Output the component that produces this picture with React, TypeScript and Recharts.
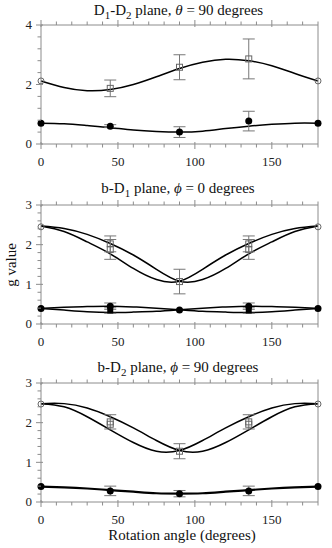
import { ComposedChart, Line, Scatter, XAxis, YAxis, ErrorBar } from 'recharts';

const CURVE_ANGLES = [0, 15, 30, 45, 60, 75, 90, 105, 120, 135, 150, 165, 180];
const d12Upper = [2.12, 1.9, 1.79, 1.83, 2.0, 2.26, 2.54, 2.75, 2.85, 2.8, 2.63, 2.37, 2.12];
const d12Lower = [0.7, 0.68, 0.62, 0.55, 0.47, 0.42, 0.4, 0.43, 0.52, 0.6, 0.66, 0.7, 0.7];
const bd1A = [2.47, 2.41, 2.26, 2.03, 1.74, 1.38, 1.08, 1.12, 1.4, 1.77, 2.07, 2.33, 2.47];
const bd1B = [2.47, 2.33, 2.07, 1.77, 1.4, 1.12, 1.08, 1.38, 1.74, 2.03, 2.26, 2.41, 2.47];
const bd1C = [0.39, 0.42, 0.44, 0.45, 0.43, 0.4, 0.36, 0.32, 0.3, 0.29, 0.31, 0.35, 0.39];
const bd1D = [0.39, 0.35, 0.31, 0.29, 0.3, 0.32, 0.36, 0.4, 0.43, 0.45, 0.44, 0.42, 0.39];
const bd2E = [2.48, 2.48, 2.37, 2.15, 1.87, 1.55, 1.3, 1.28, 1.5, 1.82, 2.15, 2.4, 2.48];
const bd2F = [2.48, 2.4, 2.15, 1.82, 1.5, 1.28, 1.3, 1.55, 1.87, 2.15, 2.37, 2.48, 2.48];
const bd2G = [0.39, 0.37, 0.34, 0.3, 0.26, 0.22, 0.21, 0.22, 0.26, 0.3, 0.34, 0.37, 0.39];

// measured points
const POINT_ANGLES = [0, 45, 90, 135, 180];
const d12UpperPts = [2.12, 1.87, 2.58, 2.86, 2.12];
const d12UpperErr = [null, 0.28, 0.42, 0.67, null];
const d12LowerPts = [0.7, 0.6, 0.4, 0.77, 0.7];
const d12LowerErr = [null, 0.05, 0.18, 0.33, null];

const bd1UpperPts = [2.45, 2.02, 1.07, 2.02, 2.45];
const bd1UpperErr = [null, 0.2, 0.31, 0.2, null];
const bd1LowerPts = [0.39, 0.45, 0.35, 0.45, 0.39];
const bd1LowerErr = [null, 0.08, null, 0.08, null];
const SPLIT_ANGLES = [45, 135];
const bd1UpperPts2 = [1.88, 1.88];
const bd1UpperErr2 = [0.25, 0.25];
const bd1LowerPts2 = [0.34, 0.34];
const bd1LowerErr2 = [0.07, 0.07];

const bd2UpperPts = [2.47, 2.02, 1.28, 2.02, 2.47];
const bd2UpperErr = [null, 0.18, 0.19, 0.18, null];
const bd2UpperPts2 = [1.96, 1.96];
const bd2LowerPts = [0.39, 0.28, 0.21, 0.28, 0.39];
const bd2LowerErr = [null, 0.12, 0.08, 0.12, null];

const X_TICKS = [0, 10, 20, 30, 40, 50, 60, 70, 80, 90, 100, 110, 120, 130, 140, 150, 160, 170, 180];
const Y_TICKS_4 = [0, 0.4, 0.8, 1.2, 1.6, 2, 2.4, 2.8, 3.2, 3.6, 4];
const Y_TICKS_3 = [0, 0.2, 0.4, 0.6, 0.8, 1, 1.2, 1.4, 1.6, 1.8, 2, 2.2, 2.4, 2.6, 2.8, 3];

const FRAME = '#8c8c8c';
const FONT = '"Liberation Serif", "Times New Roman", serif';

const near = (v: number, step: number) => Math.abs(v / step - Math.round(v / step)) < 1e-6;

function makeTick(side: string, step: number, showLabel: boolean) {
  return (props: any) => {
    const { x, y, payload } = props;
    const v = payload.value;
    const major = near(v, step);
    const out = major ? 5 : 3.5;
    const inn = major ? 2 : 0;
    let line;
    let label = null;
    if (side === 'bottom') {
      line = <line x1={x} x2={x} y1={y - inn} y2={y + out} />;
      if (showLabel && major)
        label = <text x={x} y={y + 22} textAnchor="middle">{v}</text>;
    } else if (side === 'top') {
      line = <line x1={x} x2={x} y1={y + inn} y2={y - out} />;
    } else if (side === 'left') {
      line = <line x1={x + inn} x2={x - out} y1={y} y2={y} />;
      if (showLabel && major)
        label = <text x={x - 9} y={y} dy="0.34em" textAnchor="end">{v}</text>;
    } else {
      line = <line x1={x - inn} x2={x + out} y1={y} y2={y} />;
    }
    return (
      <g>
        <g stroke={FRAME} strokeWidth={1}>{line}</g>
        {label && <g fill="#222" fontFamily={FONT} fontSize={13}>{label}</g>}
      </g>
    );
  };
}

const Marker = (kind: string) => (props: any) => {
  const { cx, cy } = props;
  if (cx == null || cy == null) return <g />;
  if (kind === 'open') {
    const end = props.payload.x === 0 || props.payload.x === 180;
    return end ? (
      <circle cx={cx} cy={cy} r={3} fill="none" stroke="#666" strokeWidth={1} />
    ) : (
      <rect x={cx - 3} y={cy - 3} width={6} height={6} fill="none" stroke="#666" strokeWidth={1} />
    );
  }
  if (kind === 'openSq')
    return <rect x={cx - 3} y={cy - 3} width={6} height={6} fill="none" stroke="#666" strokeWidth={1} />;
  if (kind === 'fillSq')
    return <rect x={cx - 3} y={cy - 3} width={6} height={6} fill="#000" />;
  return <circle cx={cx} cy={cy} r={3.5} fill="#000" />;
};

const pts = (angles: number[], ys: number[], errs?: (number | null)[]) =>
  angles.map((x, i) => ({ x, y: ys[i], err: errs ? errs[i] : null }));

type PanelProps = {
  top: number;
  yMax: number;
  yTicks: number[];
  yStep: number;
  curves: number[][];
  curveWidths?: number[];
  sets: { data: any[]; kind: string }[];
};

function Panel({ top, yMax, yTicks, yStep, curves, curveWidths, sets }: PanelProps) {
  const table = CURVE_ANGLES.map((x, i) => {
    const row: any = { x };
    curves.forEach((c, k) => (row['c' + k] = c[i]));
    return row;
  });
  return (
    <div style={{ position: 'absolute', left: 0, top }}>
      <ComposedChart width={332} height={159} data={table} margin={{ top: 0, right: 0, bottom: 0, left: 0 }}>
        <XAxis xAxisId="b" dataKey="x" type="number" domain={[0, 180]} ticks={X_TICKS} interval={0}
          height={30} tickSize={0} tickMargin={0} tickLine={false} axisLine={{ stroke: FRAME }}
          tick={makeTick('bottom', 50, true)} />
        <XAxis xAxisId="t" orientation="top" dataKey="x" type="number" domain={[0, 180]} ticks={X_TICKS} interval={0}
          height={10} tickSize={0} tickMargin={0} tickLine={false} axisLine={{ stroke: FRAME }}
          tick={makeTick('top', 50, false)} />
        <YAxis yAxisId="l" type="number" domain={[0, yMax]} ticks={yTicks} interval={0}
          width={41} tickSize={0} tickMargin={0} tickLine={false} axisLine={{ stroke: FRAME }}
          tick={makeTick('left', yStep, true)} />
        <YAxis yAxisId="r" orientation="right" type="number" domain={[0, yMax]} ticks={yTicks} interval={0}
          width={14} tickSize={0} tickMargin={0} tickLine={false} axisLine={{ stroke: FRAME }}
          tick={makeTick('right', yStep, false)} />
        {curves.map((_, k) => (
          <Line key={k} xAxisId="b" yAxisId="l" type="natural" dataKey={'c' + k} stroke="#000"
            strokeWidth={curveWidths ? curveWidths[k] : 1.5} dot={false} isAnimationActive={false} />
        ))}
        {sets.map((s, k) => (
          <Scatter key={'s' + k} xAxisId="b" yAxisId="l" data={s.data} dataKey="y" shape={Marker(s.kind)}
            isAnimationActive={false}>
            <ErrorBar dataKey="err" direction="y" width={6} stroke="#777" strokeWidth={1} isAnimationActive={false} />
          </Scatter>
        ))}
      </ComposedChart>
    </div>
  );
}

export default function App() {
  return (
    <div style={{ position: 'absolute', left: 0, top: 0, width: 332, height: 548, background: '#fff' }}>
      <Panel top={15} yMax={4} yTicks={Y_TICKS_4} yStep={2}
        curves={[d12Upper, d12Lower]}
        sets={[
          { data: pts(POINT_ANGLES, d12UpperPts, d12UpperErr), kind: 'open' },
          { data: pts(POINT_ANGLES, d12LowerPts, d12LowerErr), kind: 'fill' },
        ]} />
      <Panel top={195} yMax={3} yTicks={Y_TICKS_3} yStep={1}
        curves={[bd1A, bd1B, bd1C, bd1D]}
        sets={[
          { data: pts(POINT_ANGLES, bd1UpperPts, bd1UpperErr), kind: 'open' },
          { data: pts(SPLIT_ANGLES, bd1UpperPts2, bd1UpperErr2), kind: 'openSq' },
          { data: pts(POINT_ANGLES, bd1LowerPts, bd1LowerErr), kind: 'fill' },
          { data: pts(SPLIT_ANGLES, bd1LowerPts2, bd1LowerErr2), kind: 'fillSq' },
        ]} />
      <Panel top={373} yMax={3} yTicks={Y_TICKS_3} yStep={1}
        curves={[bd2E, bd2F, bd2G]}
        curveWidths={[1.5, 1.5, 2.2]}
        sets={[
          { data: pts(POINT_ANGLES, bd2UpperPts, bd2UpperErr), kind: 'open' },
          { data: pts(SPLIT_ANGLES, bd2UpperPts2), kind: 'openSq' },
          { data: pts(POINT_ANGLES, bd2LowerPts, bd2LowerErr), kind: 'fill' },
        ]} />
      <svg width={332} height={548} style={{ position: 'absolute', left: 0, top: 0, pointerEvents: 'none' }}
        fontFamily={FONT} fontSize={15} fill="#111">
        <text x={178.5} y={15} textAnchor="middle">
          <tspan>D</tspan>
          <tspan fontSize={11} dy={4}>1</tspan>
          <tspan dy={-4}>-D</tspan>
          <tspan fontSize={11} dy={4}>2</tspan>
          <tspan dy={-4}> plane, </tspan>
          <tspan fontStyle="italic">θ</tspan>
          <tspan> = 90 degrees</tspan>
        </text>
        <text x={178} y={193} textAnchor="middle">
          <tspan>b-D</tspan>
          <tspan fontSize={11} dy={4}>1</tspan>
          <tspan dy={-4}> plane, </tspan>
          <tspan fontStyle="italic">ϕ</tspan>
          <tspan> = 0 degrees</tspan>
        </text>
        <text x={178} y={372} textAnchor="middle">
          <tspan>b-D</tspan>
          <tspan fontSize={11} dy={4}>2</tspan>
          <tspan dy={-4}> plane, </tspan>
          <tspan fontStyle="italic">ϕ</tspan>
          <tspan> = 90 degrees</tspan>
        </text>
        <text x={0} y={0} transform="translate(15.5,265) rotate(-90)" textAnchor="middle">g value</text>
        <text x={182} y={540} textAnchor="middle">Rotation angle (degrees)</text>
      </svg>
    </div>
  );
}
